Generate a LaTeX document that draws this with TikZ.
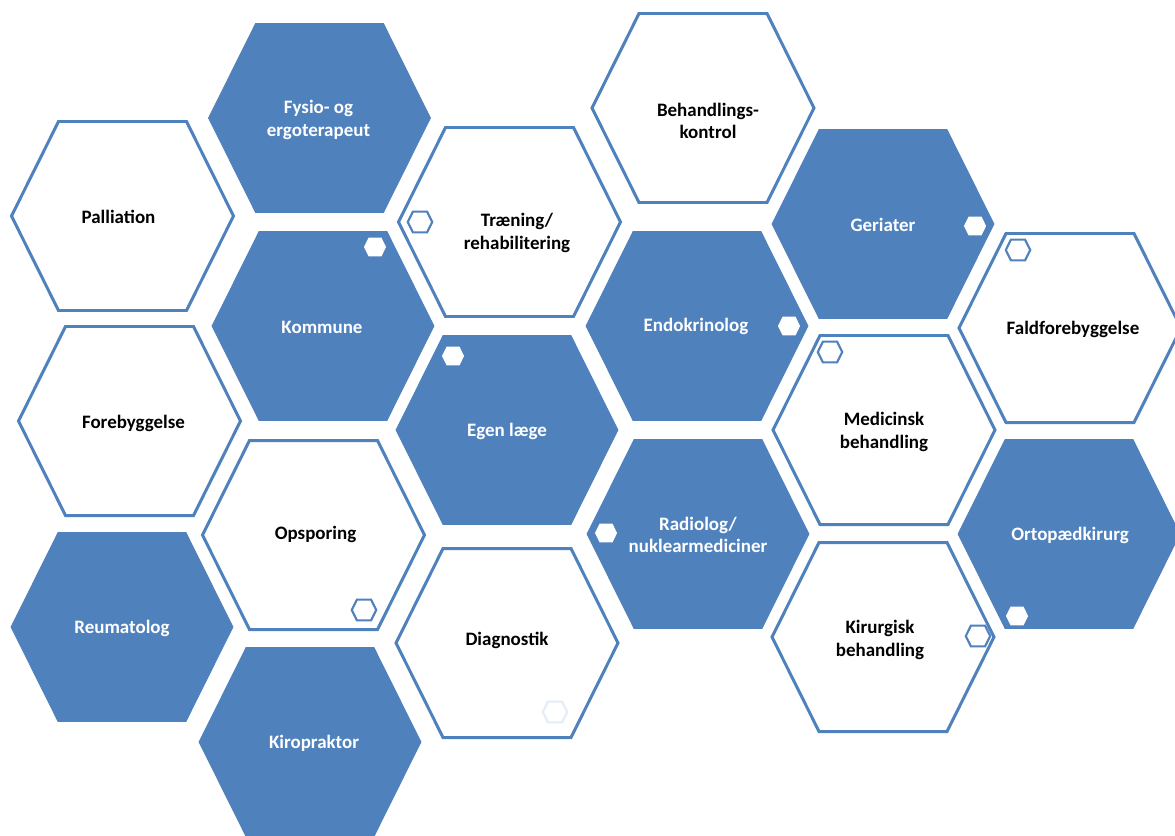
\documentclass[tikz,border=0pt]{standalone}
\usepackage{fontspec}
\setmainfont{Carlito}
\definecolor{hexblue}{HTML}{4F81BD}
\definecolor{hexpale}{HTML}{E4ECF5}
\tikzset{
	hexa/.pic={\path[pic actions] (-111,0) -- (-64,-94.5) -- (64,-94.5) -- (111,0) -- (64,94.5) -- (-64,94.5) -- cycle;},
	hexfill/.style={fill=hexblue,draw=hexblue,line width=0.4pt},
	hexline/.style={draw=hexblue,fill=white,line width=1.7pt},
	hexdot/.style={scale=0.1,fill=white},
	hexring/.style={scale=0.11,draw=hexblue,fill=white,line width=1.2pt},
	darktext/.style={font=\bfseries\fontsize{10.8}{12.6}\selectfont,align=center,text=black},
	lighttext/.style={font=\bfseries\fontsize{10.8}{12.6}\selectfont,align=center,text=white},
}
\begin{document}
\begin{tikzpicture}[x=0.02cm,y=-0.02cm]
		\useasboundingbox (0,0) rectangle (1175,835);
		% cell centres
		\coordinate (fysio) at (319.5,118);
		\coordinate (pall) at (122.5,216);
		\coordinate (komm) at (323,326);
		\coordinate (foreb) at (129.5,421);
		\coordinate (reuma) at (122,627);
		\coordinate (opsp) at (313.5,535);
		\coordinate (kiro) at (310,742);
		\coordinate (traen) at (509.5,222);
		\coordinate (behk) at (703,108);
		\coordinate (endo) at (697,326);
		\coordinate (egen) at (507,430);
		\coordinate (diag) at (507,643);
		\coordinate (radio) at (698,534);
		\coordinate (geri) at (883,224);
		\coordinate (fald) at (1070,328);
		\coordinate (medic) at (884,430);
		\coordinate (orto) at (1069,534);
		\coordinate (kirur) at (883,637);
		% big cells
		\pic[hexfill] at (fysio) {hexa};
		\pic[hexline] at (pall) {hexa};
		\pic[hexfill] at (komm) {hexa};
		\pic[hexline] at (foreb) {hexa};
		\pic[hexfill] at (reuma) {hexa};
		\pic[hexline] at (opsp) {hexa};
		\pic[hexfill] at (kiro) {hexa};
		\pic[hexline] at (traen) {hexa};
		\pic[hexline] at (behk) {hexa};
		\pic[hexfill] at (endo) {hexa};
		\pic[hexfill] at (egen) {hexa};
		\pic[hexline] at (diag) {hexa};
		\pic[hexfill] at (radio) {hexa};
		\pic[hexfill] at (geri) {hexa};
		\pic[hexline] at (fald) {hexa};
		\pic[hexline] at (medic) {hexa};
		\pic[hexfill] at (orto) {hexa};
		\pic[hexline] at (kirur) {hexa};
		% small cells
		\pic[hexdot] at (375,247) {hexa};
		\pic[hexdot] at (453,356) {hexa};
		\pic[hexdot] at (789,326) {hexa};
		\pic[hexdot] at (975,226) {hexa};
		\pic[hexdot] at (606,533) {hexa};
		\pic[hexdot] at (1017,616) {hexa};
		\pic[hexring] at (420,222) {hexa};
		\pic[hexring] at (1018,250) {hexa};
		\pic[hexring] at (830,352) {hexa};
		\pic[hexring] at (364,610) {hexa};
		\pic[hexring] at (978,636) {hexa};
		\pic[hexring,draw=hexpale] at (555,712) {hexa};
		% labels
		\node[lighttext] (tfysio) at (318.5,120) {Fysio- og\\ergoterapeut};
		\node[darktext] (tpall) at (118.5,217) {Palliation};
		\node[lighttext] (tkomm) at (322,327) {Kommune};
		\node[darktext] (tforeb) at (133.5,423) {Forebyggelse};
		\node[lighttext] (treuma) at (122,628) {Reumatolog};
		\node[darktext] (topsp) at (315.5,534) {Opsporing};
		\node[lighttext] (tkiro) at (314,743) {Kiropraktor};
		\node[darktext] (ttraen) at (517,233) {Træning/\\rehabilitering};
		\node[darktext] (tbehk) at (708,121) {Behandlings-\\kontrol};
		\node[lighttext] (tendo) at (696,326) {Endokrinolog};
		\node[lighttext] (tegen) at (507,431) {Egen læge};
		\node[darktext] (tdiag) at (507,640) {Diagnostik};
		\node[lighttext] (tradio) at (698,535) {Radiolog/\\nuklearmediciner};
		\node[lighttext] (tgeri) at (883,225) {Geriater};
		\node[darktext] (tfald) at (1073,329) {Faldforebyggelse};
		\node[darktext] (tmedic) at (884,432) {Medicinsk\\behandling};
		\node[lighttext] (torto) at (1070,535) {Ortopædkirurg};
		\node[darktext] (tkirur) at (880,640) {Kirurgisk\\behandling};
	\end{tikzpicture}
\end{document}
